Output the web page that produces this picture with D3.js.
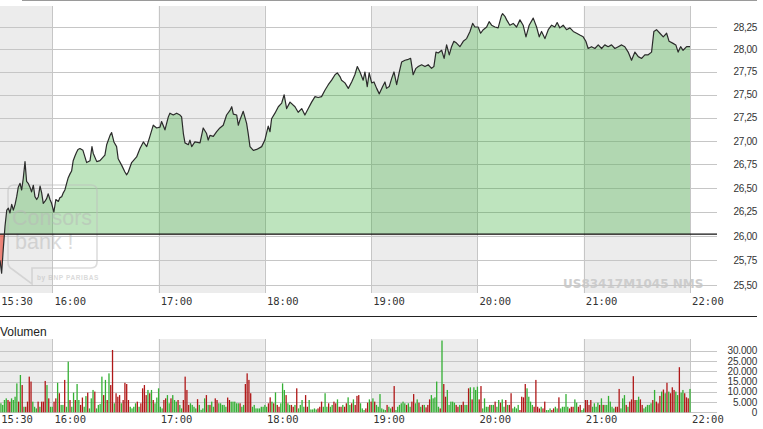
<!DOCTYPE html>
<html><head><meta charset="utf-8">
<script src="https://cdn.jsdelivr.net/npm/d3@7"></script>
<style>body{margin:0;background:#fff}svg{display:block}</style>
</head><body>
<svg id="c" width="763" height="429"></svg>
<script>
// ---------- DATA ----------
// [minutes after 15:30, price]
const priceSeries = [
[0.5,25.75],[1.4,25.62],[2.3,25.86],[3.3,26.10],[4.3,26.27],[5.2,26.29],[6.1,26.24],[7.1,26.33],[8.0,26.27],[9.0,26.33],
[9.9,26.41],[10.8,26.51],[11.8,26.55],[12.7,26.48],[13.6,26.60],[14.6,26.78],[15.5,26.57],[16.4,26.55],[17.4,26.51],[18.3,26.46],
[19.3,26.53],[20.2,26.41],[21.2,26.38],[22.1,26.41],[23.1,26.52],[24.0,26.45],[24.9,26.34],[25.8,26.36],[26.8,26.39],[27.7,26.44],
[28.7,26.38],[29.6,26.34],[30.9,26.25],[32.0,26.38],[33.4,26.36],[34.3,26.40],[35.3,26.41],[36.2,26.45],[37.1,26.48],[38.1,26.55],
[39.0,26.61],[40.0,26.65],[40.9,26.68],[41.8,26.79],[42.8,26.84],[43.7,26.88],[44.5,26.91],[45.6,26.92],[47.3,26.90],[49.4,26.77],
[51.3,26.79],[52.4,26.94],[53.1,26.87],[55.1,26.78],[56.9,26.79],[59.7,26.85],[60.7,26.96],[62.6,27.06],[63.5,27.09],[64.8,26.99],
[66.3,26.94],[67.2,26.81],[69.2,26.74],[71.0,26.67],[72.0,26.64],[72.9,26.67],[74.8,26.77],[77.6,26.83],[79.5,26.92],[81.4,26.99],
[83.3,26.94],[85.1,27.05],[87.0,27.17],[88.9,27.14],[90.8,27.15],[91.7,27.21],[93.6,27.12],[95.5,27.26],[96.4,27.30],[98.3,27.28],
[100.2,27.30],[102.1,27.28],[103.0,27.26],[104.0,27.08],[104.9,26.98],[106.8,26.96],[107.7,27.01],[108.7,26.94],[110.5,26.99],[113.4,26.98],
[115.2,27.14],[117.1,27.08],[118.0,27.01],[119.0,27.06],[120.9,27.05],[122.8,27.10],[124.6,27.14],[126.5,27.17],[128.4,27.28],[130.3,27.33],
[131.3,27.37],[132.2,27.29],[134.1,27.28],[135.0,27.17],[136.0,27.23],[137.8,27.32],[139.7,27.19],[140.6,27.08],[141.6,26.94],[143.5,26.90],
[145.4,26.91],[148.2,26.94],[150.0,27.01],[151.9,27.16],[152.9,27.10],[153.8,27.24],[155.7,27.30],[157.6,27.37],[159.5,27.41],[160.9,27.50],
[162.3,27.35],[164.2,27.42],[167.0,27.37],[168.8,27.31],[170.8,27.35],[172.6,27.28],[174.5,27.35],[176.4,27.42],[178.3,27.48],[180.1,27.47],
[182.0,27.48],[183.9,27.55],[185.8,27.61],[187.7,27.66],[189.6,27.72],[190.9,27.74],[192.4,27.70],[193.3,27.66],[195.2,27.63],[197.1,27.57],
[199.0,27.64],[200.8,27.72],[202.2,27.81],[203.7,27.75],[205.5,27.66],[206.5,27.75],[207.8,27.59],[208.9,27.74],[210.3,27.63],[211.6,27.64],
[213.1,27.57],[214.6,27.51],[216.5,27.59],[217.8,27.64],[218.7,27.57],[220.2,27.59],[221.6,27.68],[222.9,27.75],[224.4,27.61],[225.9,27.75],
[227.2,27.86],[229.1,27.88],[231.0,27.89],[232.3,27.90],[233.7,27.72],[235.3,27.79],[236.6,27.81],[238.5,27.83],[240.4,27.81],[242.2,27.83],
[244.1,27.79],[245.4,27.81],[246.6,27.97],[247.9,27.96],[249.8,27.99],[251.2,27.90],[252.6,28.05],[254.1,27.94],[255.4,28.03],[256.7,28.09],
[258.2,28.07],[260.1,28.03],[262.0,28.09],[263.9,28.12],[265.8,28.20],[267.3,28.29],[268.6,28.25],[270.4,28.25],[271.8,28.18],[273.3,28.22],
[275.2,28.25],[276.6,28.31],[278.0,28.27],[279.9,28.25],[281.7,28.24],[283.6,28.38],[284.2,28.40],[285.5,28.37],[286.5,28.33],[288.3,28.27],
[290.2,28.29],[292.1,28.25],[294.0,28.33],[295.8,28.27],[297.4,28.14],[299.2,28.27],[301.5,28.35],[303.4,28.25],[304.9,28.14],[306.2,28.20],
[308.1,28.12],[310.0,28.22],[311.9,28.27],[313.7,28.25],[315.0,28.30],[316.5,28.24],[318.4,28.27],[320.3,28.22],[322.2,28.24],[324.1,28.20],
[326.0,28.18],[327.8,28.16],[329.7,28.14],[331.2,28.09],[332.5,28.01],[334.4,28.03],[336.3,28.01],[338.2,28.05],[340.1,28.01],[341.9,28.05],
[343.8,28.03],[345.7,28.05],[347.6,28.01],[349.5,28.03],[351.4,28.05],[353.2,28.03],[355.1,27.97],[357.0,27.88],[358.9,27.97],[360.8,27.92],
[362.7,27.90],[364.5,27.94],[366.4,27.94],[368.3,27.97],[369.6,28.20],[371.1,28.22],[373.0,28.18],[374.9,28.14],[376.8,28.18],[378.2,28.09],
[380.2,28.07],[382.0,28.05],[383.3,27.97],[384.7,28.03],[386.1,27.99],[388.1,28.03],[390,28.03]
];
const prevClose = 26.02;
const priceTicks = [25.5,25.75,26,26.25,26.5,26.75,27,27.25,27.5,27.75,28,28.25];
const timeTicks = ["15:30","16:00","17:00","18:00","19:00","20:00","21:00","22:00"];

// volume per minute (thousand shares), minute 0 = 15:30
const volumes = [
1.5,4.4,3.6,6.0,6.8,6.0,5.2,6.8,6.0,7.6, 14.1,5.2,18.2,13.3,2.7,2.7,5.2,17.4,15.0,5.2,
2.7,1.9,5.2,2.7,5.2,5.2,15.3,13.3,6.8,2.7, 2.7,5.2,6.8,14.4,9.3,3.6,3.6,15.8,2.7,24.7,
6.0,2.7,9.6,6.0,13.8,6.0,3.6,7.2,2.7,7.9, 9.6,1.9,6.8,10.9,10.1,1.9,3.6,4.1,17.4,8.4,
15.8,6.0,19.0,13.3,30.4,4.4,9.3,7.6,8.4,4.4, 6.0,14.4,13.8,6.0,2.7,1.9,2.7,4.4,5.2,2.7,
4.4,11.7,13.3,8.4,10.9,9.3,10.9,6.0,4.4,7.2, 11.7,2.7,1.9,6.0,6.8,8.4,4.4,6.8,8.4,6.0,
5.2,6.0,3.6,1.9,6.0,17.4,10.9,3.6,4.4,3.6, 2.7,1.9,6.4,3.6,1.2,1.9,6.8,8.4,3.6,3.6,
5.2,2.7,6.8,6.0,4.4,4.4,3.6,3.6,2.7,7.2, 6.0,5.2,5.2,5.2,4.4,4.4,4.4,2.7,3.6,13.8,
19.0,15.8,9.3,2.7,3.6,1.9,1.9,
1.9,2.7,2.7,3.6,2.7,4.4,7.3,5.2,4.4,9.7, 3.6,2.7,4.4,14.1,10.9,8.4,4.4,3.6,3.6,2.7,
3.6,11.7,1.9,3.6,6.0,2.7,8.4,2.7,6.0,1.4, 1.4,1.9,1.4,1.9,2.7,5.2,2.7,9.3,2.7,4.4,
2.7,3.6,5.2,4.4,6.3,2.7,2.7,3.6,2.7,4.4, 7.3,3.6,4.4,6.3,3.6,8.0,8.4,4.4,1.9,1.1,
1.9,4.7,6.3,5.2,6.8,5.2,3.6,2.7,8.9,1.9, 1.4,1.1,3.6,2.7,1.9,2.7,12.8,1.1,2.7,3.6,
4.4,5.2,4.4,3.6,4.4,2.7,5.2,8.9,4.4,6.3, 4.7,2.7,3.6,3.6,2.4,3.6,6.3,8.4,6.8,7.3,
15.0,2.7,1.9,35.0,13.8,7.6,10.9,3.6,5.2,5.2, 4.7,3.6,2.7,3.6,3.6,5.2,3.6,3.6,11.7,12.2,
6.3,12.2,10.9,12.5,6.3,12.8,1.9,6.8,2.7,2.7, 3.6,3.6,3.6,5.2,2.7,6.0,
4.7,6.3,2.7,6.0,3.6,3.6,9.3,1.9,2.7,1.9, 3.6,1.1,7.6,7.3,13.8,11.7,7.6,5.2,3.6,2.7,
15.8,2.7,1.9,2.7,1.9,5.2,1.1,1.1,1.9,1.1, 1.9,2.7,1.9,7.3,1.9,2.7,2.7,8.9,2.7,1.9,
2.7,2.7,6.3,4.7,2.7,3.6,1.1,1.9,6.0,6.0, 3.6,6.0,2.7,4.4,2.7,4.7,3.6,6.8,3.6,3.6,
3.6,8.0,5.2,2.7,1.9,2.7,2.7,11.4,1.9,6.8, 8.4,3.6,2.7,5.2,6.3,17.6,6.0,6.0,7.6,6.3,
3.6,1.9,2.7,3.6,3.6,4.4,6.0,10.9,5.2,4.4, 8.0,10.1,11.1,9.3,14.4,10.1,9.3,12.2,10.9,10.1,
8.4,22.0,9.6,10.9,9.3,7.3,6.8,11.4
];
// g = up tick (green), r = down tick (red), one letter per minute
const volDirs = [
"gggggrrggg","grgrgrrrrg","ggrgrrrgrg","grrgrggrgg","rggrggrrgg","rgggrggggr","grgrrgrrrg","rrrrggggrg",
"rrrrgrgrgg","gggrrggrgg","grggrrrrgg","ggrggggrgr","ggrrgggggr","rgggggrggr","rrrgggg",
"gggggrrgrg","rrgggrggrr","grggggrrgg","gggrrrgggr","ggrrgrrgrr","ggrgrrrggg","rrgrgrgggg","ggrggrrggg",
"gggrggrrgg","rgrgrrrggg","ggrgrrgggg","grrgrrggrg","rgggrrgggg","rggrgg",
"rggrgrrggg","grrrrggggr","rrrgrrgggr","rggrgggggr","rrggrrggrr","rrggggrgrg","gggggrrrgg","grgrrrrggr",
"rgggggrgrr","rgrgrgrrrg","grggrrrg"
].join("");
const volTicks = [0,5,10,15,20,25,30];

// ---------- CHART ----------
const svg = d3.select("#c");
const day = (h,m) => new Date(2024,0,2,h,m);
const t0 = day(15,30);
const toDate = min => new Date(t0.getTime() + min*60000);
const parseT = s => { const [h,m] = s.split(":").map(Number); return day(h,m); };
const tickDates = timeTicks.map(parseT);

const x = d3.scaleTime().domain([day(15,30), day(22,0)]).range([-0.85, 690]);
const y = d3.scaleLog().domain([25.5, 28.25]).range([285, 27]);
const yv = d3.scaleLinear().domain([0, 30]).range([412.3, 350.8]);
const P = {top:6, bottom:293}, V = {top:339, bottom:412.5};
const gridRight = 717;
const de = d3.formatLocale({decimal:",", thousands:".", grouping:[3], currency:["","€"]});
const fPrice = de.format(",.2f"), fVol = de.format(",.0f");

// top border
svg.append("line").attr("x1",22).attr("x2",757).attr("y1",0.5).attr("y2",0.5).attr("stroke","#9a9a9a");

function bands(top, bottom){
  for (let i=0;i<tickDates.length-1;i++){
    if (i%2===0){
      const x0 = Math.max(0, x(tickDates[i])), x1 = x(tickDates[i+1]);
      svg.append("rect").attr("x",x0).attr("y",top).attr("width",x1-x0).attr("height",bottom-top).attr("fill","#ececec");
    }
  }
}
function vgrid(top, bottom){
  tickDates.slice(1).forEach(t=>{
    const xx = Math.round(x(t))+0.5;
    svg.append("line").attr("x1",xx).attr("x2",xx).attr("y1",top).attr("y2",bottom).attr("stroke","#c6c6c6");
  });
}
function xLabels(baseY){
  svg.append("g").selectAll("text").data(tickDates).join("text")
    .attr("x",d=>Math.max(1,x(d)+2.1)).attr("y",baseY)
    .attr("font-family","DejaVu Sans Mono, monospace").attr("font-size","10.5px").attr("fill","#333")
    .text((d,i)=>timeTicks[i]);
}

// ---- price panel ----
bands(P.top, P.bottom);

// ISIN watermark (under grid)
svg.append("text").attr("x",563).attr("y",288).attr("font-family","DejaVu Sans").attr("font-weight","bold")
  .attr("font-size","12px").attr("fill","#cdcdcd").text("US83417M1045 NMS");

priceTicks.forEach(v=>{
  const yy = Math.round(y(v))+0.5;
  svg.append("line").attr("x1",0).attr("x2",gridRight).attr("y1",yy).attr("y2",yy).attr("stroke","#c6c6c6");
});
vgrid(P.top, P.bottom);

const base = y(prevClose);
const defs = svg.append("defs");
defs.append("clipPath").attr("id","above").append("rect").attr("x",0).attr("y",0).attr("width",763).attr("height",base);
defs.append("clipPath").attr("id","below").append("rect").attr("x",0).attr("y",base).attr("width",763).attr("height",300-base);

const area = d3.area().x(d=>x(toDate(d[0]))).y0(base).y1(d=>y(d[1]));
svg.append("path").datum(priceSeries).attr("d",area).attr("fill","rgba(40,165,40,0.30)").attr("clip-path","url(#above)");
svg.append("path").datum(priceSeries).attr("d",area).attr("fill","rgba(235,60,40,0.6)").attr("clip-path","url(#below)");

// logo watermark
const wm = svg.append("g").attr("opacity",0.5);
wm.append("path").attr("d","M14,185 H91 Q97,185 97,191 V262 Q97,268 91,268 H32 V284 L12,269 Q8,267 8,262 V191 Q8,185 14,185 Z")
  .attr("fill","none").attr("stroke","#bdbdbd").attr("stroke-width",1.6);
wm.append("text").attr("x",12).attr("y",225).attr("font-family","Liberation Sans, Arial").attr("font-size","21.5px").attr("fill","#b8b8b8").text("Consors");
wm.append("text").attr("x",15).attr("y",249).attr("font-family","Liberation Sans, Arial").attr("font-size","21.5px").attr("fill","#b8b8b8").text("bank !");
wm.append("text").attr("x",37).attr("y",280).attr("font-family","Liberation Sans, Arial").attr("font-weight","bold").attr("font-size","6.5px").attr("letter-spacing","0.6px").attr("fill","#b8b8b8").text("by BNP PARIBAS");

// prev close line
svg.append("line").attr("x1",0).attr("x2",gridRight).attr("y1",base).attr("y2",base).attr("stroke","#111").attr("stroke-width",1.2);

const line = d3.line().x(d=>x(toDate(d[0]))).y(d=>y(d[1]));
svg.append("path").datum(priceSeries).attr("d",line).attr("fill","none").attr("stroke","#2b2b2b").attr("stroke-width",1.2).attr("stroke-linejoin","round");

svg.append("g").selectAll("text").data(priceTicks).join("text")
  .attr("x",757).attr("y",d=>y(d)+3.5).attr("text-anchor","end")
  .attr("font-family","Liberation Sans, Arial").attr("font-size","10px").attr("fill","#333").attr("letter-spacing","-0.3px")
  .text(d=>fPrice(d));
xLabels(305);

// separator
svg.append("line").attr("x1",0).attr("x2",757).attr("y1",316.5).attr("y2",316.5).attr("stroke","#222");
svg.append("text").attr("x",0).attr("y",336).attr("font-family","Liberation Sans, Arial").attr("font-size","12px").attr("fill","#222").text("Volumen");

// ---- volume panel ----
bands(V.top, V.bottom);
volTicks.forEach(v=>{
  const yy = Math.round(yv(v))+0.5;
  svg.append("line").attr("x1",0).attr("x2",gridRight).attr("y1",yy).attr("y2",yy).attr("stroke","#c6c6c6");
});
vgrid(V.top, V.bottom);

svg.append("g").selectAll("rect").data(volumes).join("rect")
  .attr("x",(d,i)=>x(toDate(i))-0.65).attr("width",1.3)
  .attr("y",d=>yv(d)).attr("height",d=>yv(0)-yv(d))
  .attr("fill",(d,i)=>volDirs[i]==="r" ? "#b01818" : "#34b034");

svg.append("g").selectAll("text").data(volTicks).join("text")
  .attr("x",757).attr("y",d=>yv(d)+3.5).attr("text-anchor","end")
  .attr("font-family","Liberation Sans, Arial").attr("font-size","10px").attr("fill","#333").attr("letter-spacing","-0.2px")
  .text(d=>fVol(d*1000));
xLabels(423);
</script>
</body></html>
